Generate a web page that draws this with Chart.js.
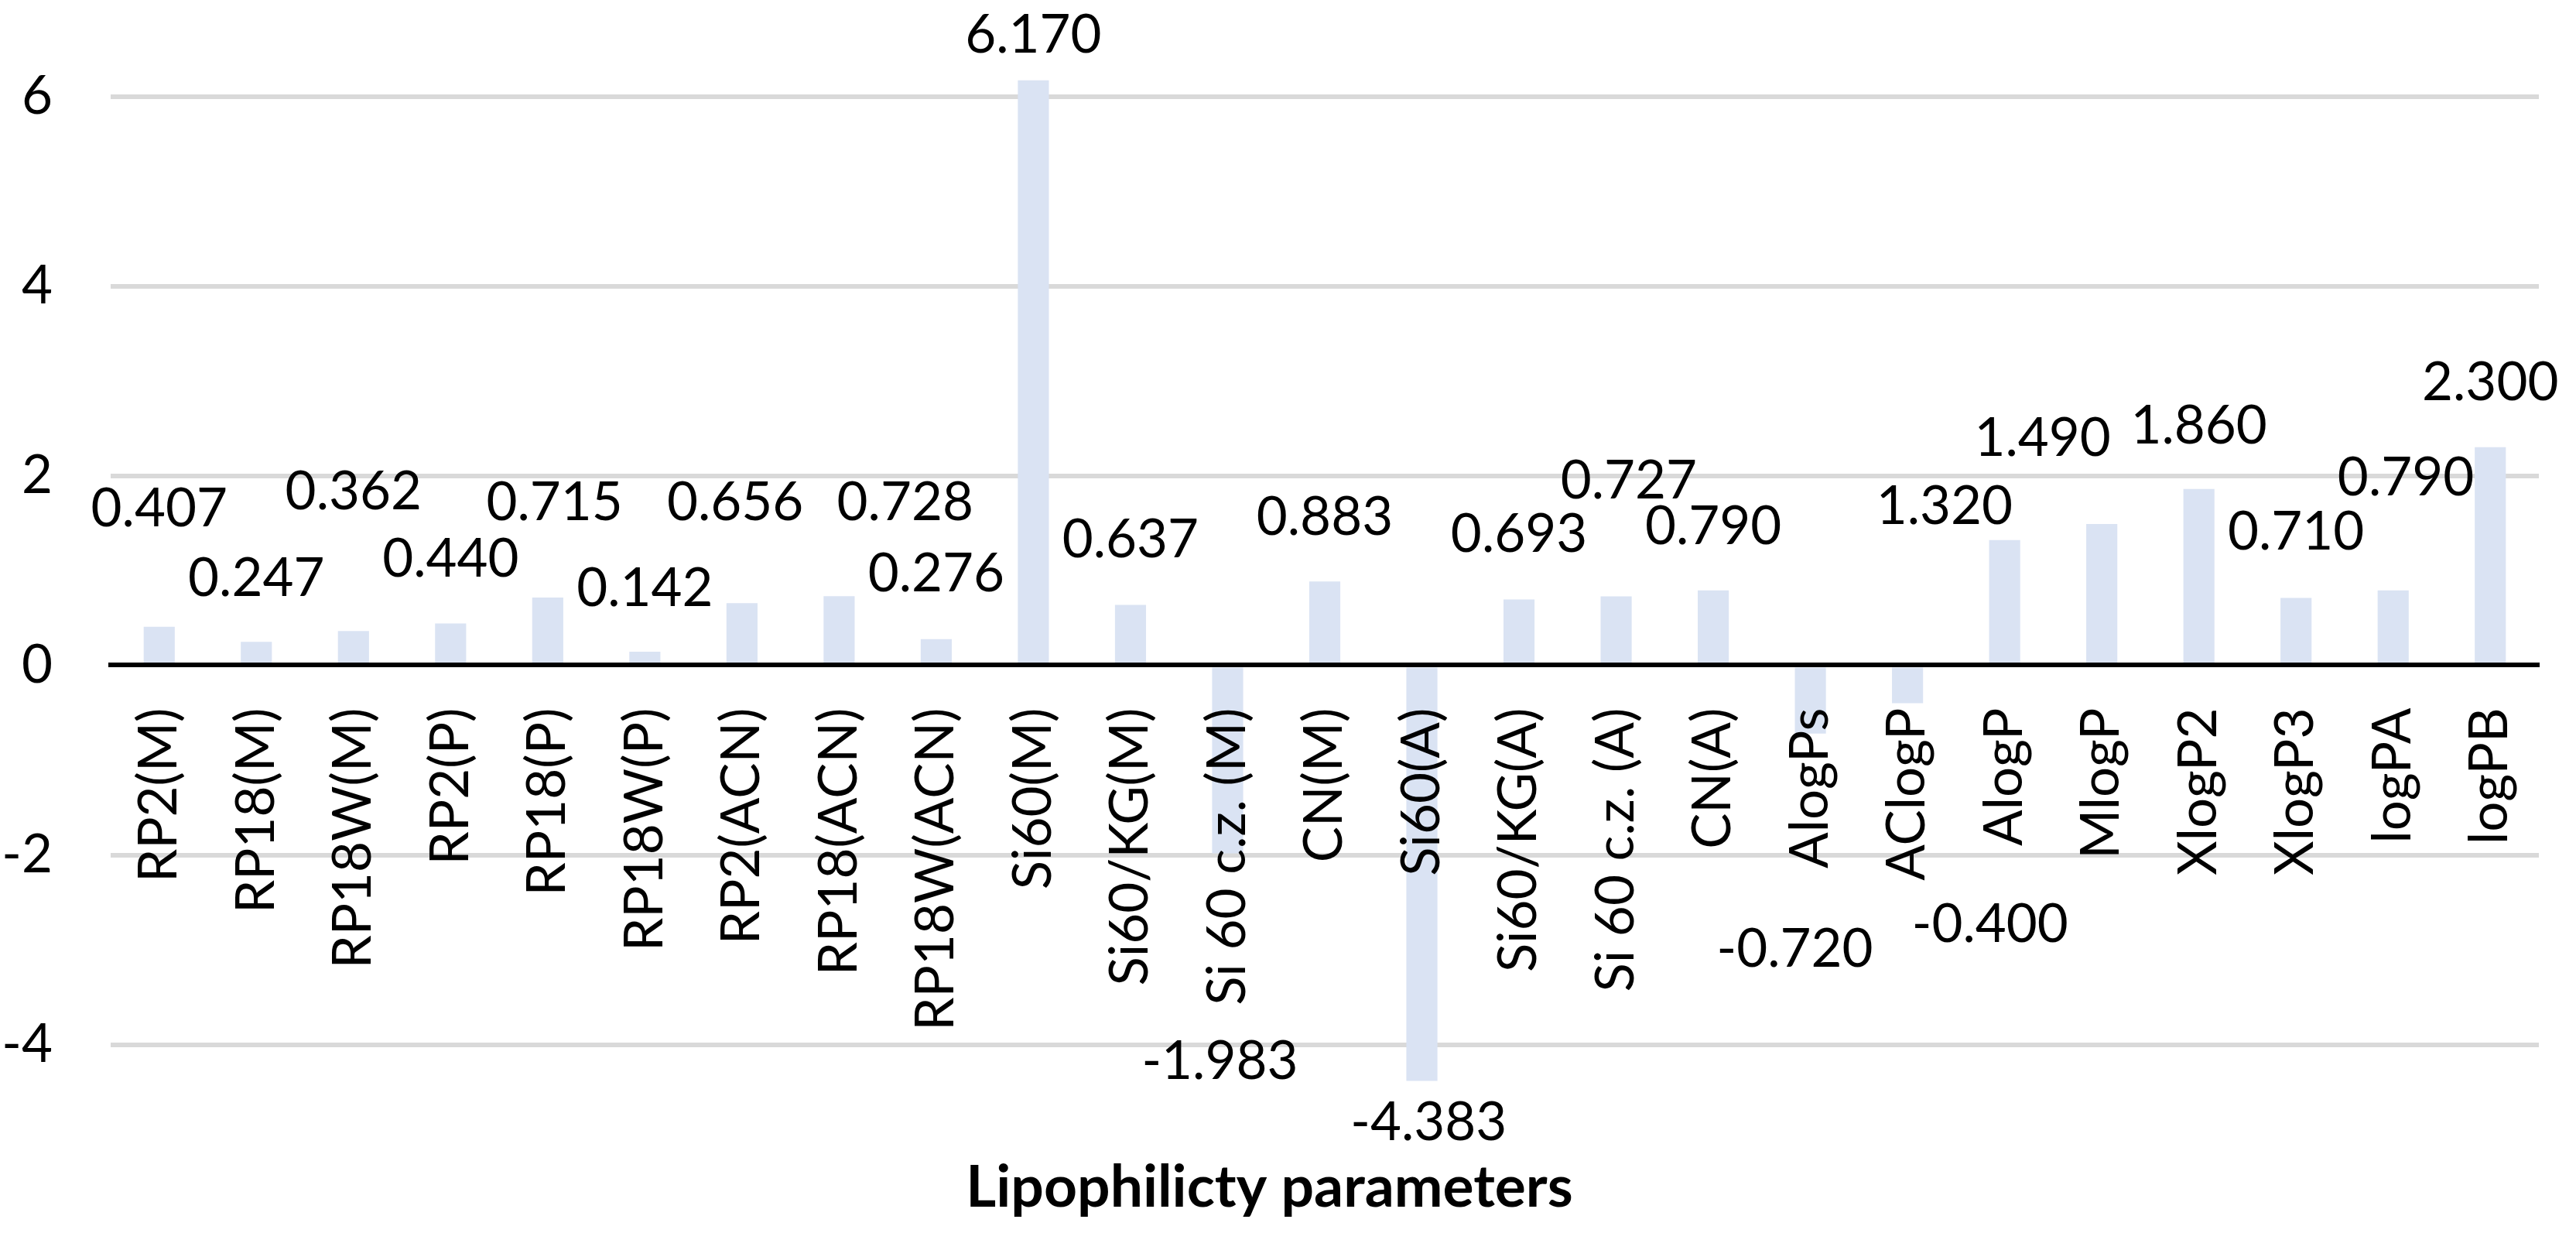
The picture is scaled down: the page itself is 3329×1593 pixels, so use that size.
<!DOCTYPE html>
<html>
<head>
<meta charset="utf-8">
<script src="https://cdn.jsdelivr.net/npm/chart.js@4.4.1/dist/chart.umd.min.js"></script>
<style>
  html, body { margin: 0; padding: 0; background: #fff; }
  #wrap { width: 3329px; height: 1593px; }
</style>
</head>
<body>
<div id="wrap"><canvas id="c" width="3329" height="1593"></canvas></div>
<script>
const categories = ["RP2(M)", "RP18(M)", "RP18W(M)", "RP2(P)", "RP18(P)", "RP18W(P)", "RP2(ACN)", "RP18(ACN)", "RP18W(ACN)", "Si60(M)", "Si60/KG(M)", "Si 60 c.z. (M)", "CN(M)", "Si60(A)", "Si60/KG(A)", "Si 60 c.z. (A)", "CN(A)", "AlogPs", "AClogP", "AlogP", "MlogP", "XlogP2", "XlogP3", "logPA", "logPB"];
const values = [0.407, 0.247, 0.362, 0.440, 0.715, 0.142, 0.656, 0.728, 0.276, 6.170, 0.637, -1.983, 0.883, -4.383, 0.693, 0.727, 0.790, -0.720, -0.400, 1.320, 1.490, 1.860, 0.710, 0.790, 2.300];
// where each value label sits (y in axis units, x shift in category units)
const labelY = [1.65, 0.91, 1.83, 1.12, 1.71, 0.81, 1.71, 1.71, 0.96, 6.64, 1.32, -4.18, 1.56, -4.83, 1.38, 1.94, 1.46, -3.00, -2.74, 1.67, 2.39, 2.52, 1.40, 1.97, 2.98];
const labelDX = [0, 0, 0, 0, 0.07, 0, -0.07, 0.68, 0, 0, 0, -0.08, 0, 0.07, 0, 0.13, 0, -0.16, 0.85, -0.62, -0.61, 0, 0, 0.13, 0];
const yTicks = [-4, -2, 0, 2, 4, 6];
const axisTitle = "Lipophilicty parameters";

const FONT = "Lato";

const valueLabels = {
  id: "valueLabels",
  afterDatasetsDraw(chart) {
    const ctx = chart.ctx;
    const xs = chart.scales.x, ys = chart.scales.y;
    ctx.save();
    ctx.font = "69px " + FONT;
    ctx.fillStyle = "#000";
    ctx.textAlign = "center";
    ctx.textBaseline = "middle";
    values.forEach((v, i) => {
      const x = xs.getPixelForValue(i + labelDX[i]);
      const y = ys.getPixelForValue(labelY[i]);
      ctx.fillText(v.toFixed(3), x, y);
    });
    ctx.restore();
  }
};

new Chart(document.getElementById("c"), {
  type: "bar",
  data: {
    labels: categories,
    datasets: [{
      data: values,
      backgroundColor: "#DAE3F3",
      borderWidth: 0,
      categoryPercentage: 1,
      barPercentage: 0.32
    }]
  },
  options: {
    responsive: false,
    animation: false,
    devicePixelRatio: 1,
    layout: { padding: { left: 0, right: 48, top: 2, bottom: 0 } },
    plugins: {
      legend: { display: false },
      tooltip: { enabled: false },
      title: {
        display: true,
        text: axisTitle,
        position: "bottom",
        color: "#000",
        font: { family: FONT, size: 75, weight: "bold", lineHeight: 1.2 },
        padding: { top: 18, bottom: 13 }
      }
    },
    scales: {
      x: {
        position: { y: 0 },
        grid: { display: false, drawTicks: false },
        border: { display: true, color: "#000", width: 6, z: 1 },
        ticks: {
          z: 1,
          minRotation: 90,
          maxRotation: 90,
          autoSkip: false,
          padding: 55,
          color: "#000",
          font: { family: FONT, size: 69 }
        },
        afterFit(s) { s.height = 0; s.paddingLeft = 0; s.paddingRight = 0; }
      },
      y: {
        min: -5,
        max: 7,
        grid: {
          drawTicks: false,
          lineWidth: 6,
          color: (c) => (c.tick && c.tick.value === 0) ? "rgba(0,0,0,0)" : "#D9D9D9"
        },
        border: { display: false },
        afterBuildTicks(s) { s.ticks = yTicks.map(v => ({ value: v })); },
        ticks: {
          padding: 75,
          color: "#000",
          font: { family: FONT, size: 69 },
          callback: (v) => String(v)
        },
        afterFit(s) { s.width = 143; s.paddingTop = 0; s.paddingBottom = 0; }
      }
    }
  },
  plugins: [valueLabels]
});
</script>
</body>
</html>
